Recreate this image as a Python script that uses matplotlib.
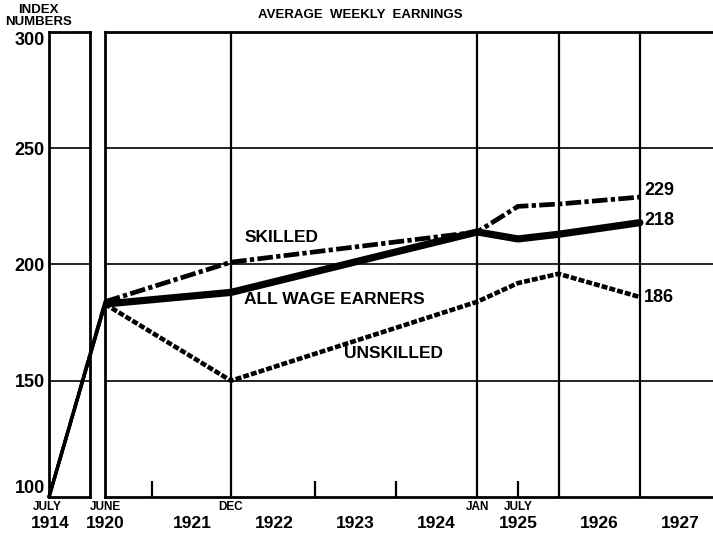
import matplotlib
matplotlib.use("Agg")
import matplotlib.pyplot as plt
from matplotlib.patches import ConnectionPatch

plt.rcParams['font.family'] = ['Liberation Sans', 'DejaVu Sans']
plt.rcParams['font.weight'] = 'bold'

# 1. DATA (index numbers, July 1914 = 100)
base_date = 1914.5
base_value = 100
dates = [1920.42, 1921.97, 1925.0, 1925.5, 1926.0, 1927.0]
skilled = [184, 201, 214, 225, 226, 229]
all_wage_earners = [183, 188, 214, 211, 213, 218]
unskilled = [183, 150, 184, 192, 196, 186]

y_ticks = [100, 150, 200, 250, 300]
grid_values = [150, 200, 250]
year_labels = ['1921', '1922', '1923', '1924', '1925', '1926', '1927']
year_label_pos = [1921.5, 1922.5, 1923.5, 1924.5, 1925.5, 1926.5, 1927.5]
short_ticks = [1921.0, 1923.0, 1924.0, 1925.5]
long_lines = [1921.97, 1925.0, 1926.0, 1927.0]
month_labels = ['JUNE', 'DEC', 'JAN', 'JULY']
month_label_pos = [1920.42, 1921.97, 1925.0, 1925.5]

# line styles
skilled_style = dict(color='black', lw=3.4, linestyle=(0, (3.3, 0.7, 0.9, 0.7)))
all_style = dict(color='black', lw=5.2, linestyle='-', solid_capstyle='round')
unskilled_style = dict(color='black', lw=3.3, linestyle=(0, (1.3, 0.45)))

# 2. FIGURE / AXES
W, H = 713, 537
fig = plt.figure(figsize=(W / 100, H / 100), dpi=100)
bottom = 1 - 497 / H
height = 465 / H
ax1 = fig.add_axes([49 / W, bottom, 41 / W, height])
ax2 = fig.add_axes([105 / W, bottom, 608 / W, height])

for ax in (ax1, ax2):
    ax.set_ylim(100, 300)
    for v in grid_values:
        ax.axhline(v, color='black', lw=1.2, zorder=1)
    for s in ax.spines.values():
        s.set_linewidth(2.0)
    ax.set_xticks([])

ax1.set_xlim(1914.5, 1915.0)
ax1.set_yticks(y_ticks)
ax1.set_yticklabels([str(v) for v in y_ticks], fontsize=13, fontweight='bold')
ax1.tick_params(axis='y', length=0, pad=3)
ylabs = ax1.get_yticklabels()
ylabs[0].set_va('bottom')
ylabs[-1].set_va('top')

ax2.set_xlim(1920.42, 1927.9)
ax2.set_yticks([])
ax2.spines['right'].set_visible(False)

# vertical guide lines and small year ticks
for x in long_lines:
    ax2.axvline(x, color='black', lw=1.6, zorder=1)
ax2.vlines(short_ticks, 100, 107, color='black', lw=1.6, zorder=1)

# 3. SERIES
ax2.plot(dates, skilled, zorder=3, **skilled_style)
ax2.plot(dates, unskilled, zorder=3, **unskilled_style)
ax2.plot(dates, all_wage_earners, zorder=4, **all_style)

# 1914 -> 1920 jump drawn across the break
for series, style in [(unskilled, unskilled_style), (skilled, skilled_style), (all_wage_earners, all_style)]:
    st = dict(style)
    st['lw'] = 2.4
    st.pop('solid_capstyle', None)
    con = ConnectionPatch(xyA=(base_date, base_value), coordsA=ax1.transData,
                          xyB=(dates[0], series[0]), coordsB=ax2.transData, zorder=3, **st)
    fig.add_artist(con)

# 4. LABELS
ax2.text(1922.14, 211.5, 'SKILLED', fontsize=12.5, ha='left', va='center')
ax2.text(1922.13, 185, 'ALL WAGE EARNERS', fontsize=12.5, ha='left', va='center')
ax2.text(1923.36, 161.7, 'UNSKILLED', fontsize=12.5, ha='left', va='center')
ax2.text(1927.05, skilled[-1] + 3, str(skilled[-1]), fontsize=13, ha='left', va='center')
ax2.text(1927.05, all_wage_earners[-1] + 1, str(all_wage_earners[-1]), fontsize=13, ha='left', va='center')
ax2.text(1927.05, unskilled[-1], str(unskilled[-1]), fontsize=13, ha='left', va='center')

xt = ax2.get_xaxis_transform()
month_y = -(507.5 - 497) / 465
year_y = -(524 - 497) / 465
for lab, x in zip(month_labels, month_label_pos):
    ax2.text(x, month_y, lab, transform=xt, fontsize=8.5, ha='center', va='center')
for lab, x in zip(year_labels, year_label_pos):
    ax2.text(x, year_y, lab, transform=xt, fontsize=12.5, ha='center', va='center')
ax2.text(1920.42, year_y, '1920', transform=xt, fontsize=12.5, ha='center', va='center')

xt1 = ax1.get_xaxis_transform()
ax1.text(1914.48, month_y, 'JULY', transform=xt1, fontsize=8.5, ha='center', va='center')
ax1.text(1914.52, year_y, '1914', transform=xt1, fontsize=12.5, ha='center', va='center')

fig.text(360 / W, 1 - 15 / H, 'AVERAGE  WEEKLY  EARNINGS', fontsize=9.5, ha='center', va='center')
fig.text(38 / W, 1 - 16 / H, 'INDEX\nNUMBERS', fontsize=9.5, ha='center', va='center', linespacing=0.95)

fig.savefig('out.png', dpi=100)
